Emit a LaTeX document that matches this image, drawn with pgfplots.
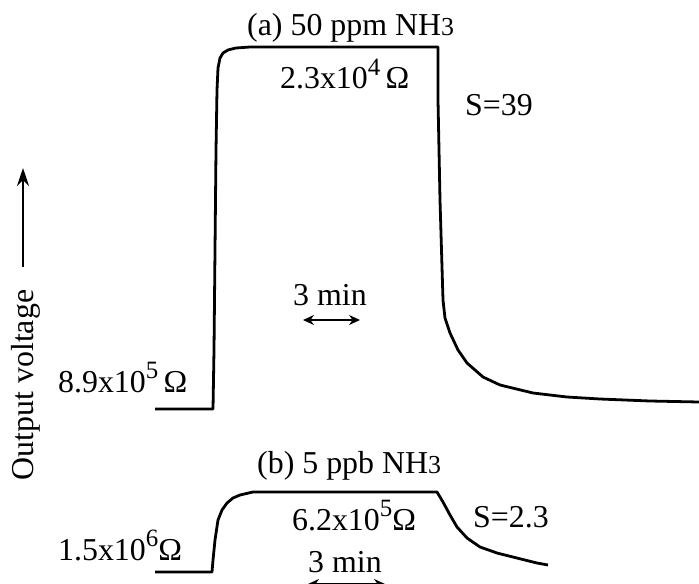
\documentclass[border=0pt]{standalone}
\usepackage{fontspec}
\setmainfont{Liberation Serif}
\usepackage{pgfplots}
\pgfplotsset{compat=1.18}
\usetikzlibrary{arrows.meta}
\newcommand\lbl{\fontsize{32}{38}\selectfont}
\newcommand\sub[1]{{\fontsize{26}{30}\selectfont #1}}
\newcommand\expo[1]{\raisebox{0.42em}{\fontsize{25}{28}\selectfont #1}}
\begin{document}
\begin{tikzpicture}
\begin{axis}[width=699bp,height=584bp,scale only axis,axis lines=none,
 xmin=0,xmax=699,ymin=0,ymax=584,y dir=reverse,clip=false]
% (a) 50 ppm response
\addplot[black,line width=2.8pt,line join=round] coordinates {
 (155,409)(213,409)(214,350)(215,250)(216,150)(217,90)(218,68)(220,58)
 (223,53)(228,50)(236,48)(250,47)(300,47)(400,47)(438,47)
 (438,100)(440,200)(442,267)(443,300)(445,318)(450,333)(458,350)
 (467,363)(483,377)(500,385)(533,393)(567,397)(600,399)(650,401)(699,402)};
% (b) 5 ppb response
\addplot[black,line width=2.8pt,line join=round] coordinates {
 (155,572)(212,572)(213,560)(215,540)(218,520)(222,510)(227,503)(233,498)
 (240,495)(253,492)(300,492)(400,492)(437,492)
 (443,502)(450,515)(457,527)(467,538)(480,547)(497,553)(517,558)(537,563)(548,565)};
\node[anchor=base west,inner sep=0pt] at (axis cs:247,36) {\lbl (a) 50 ppm NH\sub{3}};
\node[anchor=base west,inner sep=0pt] at (axis cs:280,89) {\lbl 2.3x10\expo{4}\,Ω};
\node[anchor=base west,inner sep=0pt] at (axis cs:465,115) {\lbl S=39};
\node[anchor=base west,inner sep=0pt] at (axis cs:293,305) {\lbl 3 min};
\draw[{Stealth[length=11pt,width=10pt]}-{Stealth[length=11pt,width=10pt]},line width=2.3pt]
 (axis cs:303,320) -- (axis cs:360,320);
\node[anchor=base west,inner sep=0pt] at (axis cs:58,392) {\lbl 8.9x10\expo{5}\,Ω};
\node[anchor=base,rotate=90,inner sep=0pt] at (axis cs:33,385) {\lbl Output voltage};
\draw[-{Stealth[length=18pt,width=12pt]},line width=2.6pt] (axis cs:23,267) -- (axis cs:23,168);
\node[anchor=base west,inner sep=0pt] at (axis cs:257,473) {\lbl (b) 5 ppb NH\sub{3}};
\node[anchor=base west,inner sep=0pt] at (axis cs:292,530) {\lbl 6.2x10\expo{5}Ω};
\node[anchor=base west,inner sep=0pt] at (axis cs:473,527) {\lbl S=2.3};
\node[anchor=base west,inner sep=0pt] at (axis cs:58,560) {\lbl 1.5x10\expo{6}Ω};
\node[anchor=base west,inner sep=0pt] at (axis cs:308,572) {\lbl 3 min};
\draw[{Stealth[length=11pt,width=10pt]}-{Stealth[length=11pt,width=10pt]},line width=2.3pt]
 (axis cs:308,584) -- (axis cs:385,584);
\coordinate (ll) at (rel axis cs:0,0);
\coordinate (ur) at (rel axis cs:1,1);
\end{axis}
\pgfresetboundingbox
\useasboundingbox (ll) rectangle (ur);
\end{tikzpicture}
\end{document}
